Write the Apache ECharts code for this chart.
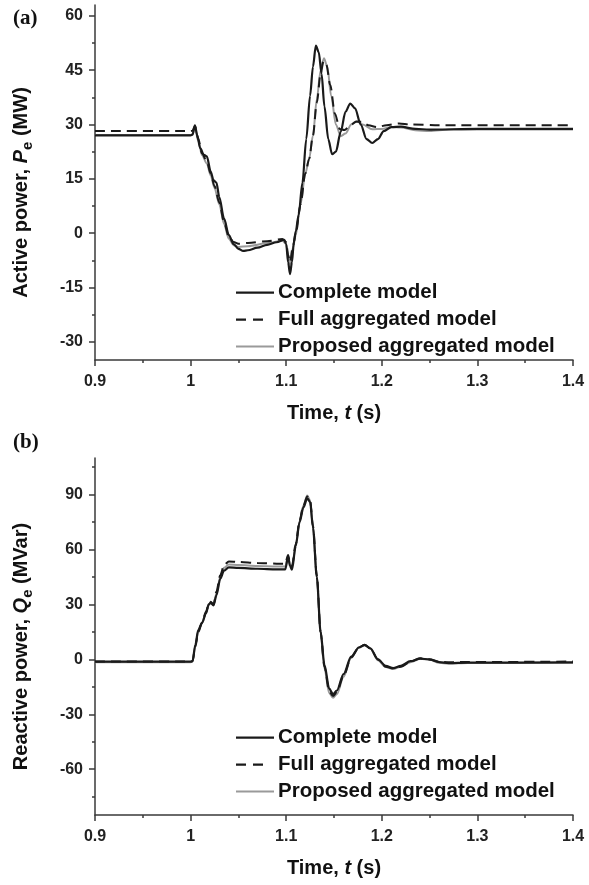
<!DOCTYPE html>
<html>
<head>
<meta charset="utf-8">
<script src="https://cdn.jsdelivr.net/npm/echarts@6/dist/echarts.min.js"></script>
<style>
  html, body { margin: 0; padding: 0; background: #fff; }
  #chart { width: 589px; height: 885px; }
</style>
</head>
<body>
<div id="chart"></div>
<script>
// Axis ticks
const timeTicks = [0.9, 1.0, 1.1, 1.2, 1.3, 1.4];
const timeMinorTicks = [0.95, 1.05, 1.15, 1.25, 1.35];
const pTicks = [-30, -15, 0, 15, 30, 45, 60];
const pMinorTicks = [-22.5, -7.5, 7.5, 22.5, 37.5, 52.5];
const qTicks = [-60, -30, 0, 30, 60, 90];
const qMinorTicks = [-75, -45, -15, 15, 45, 75, 105];

const seriesNames = ['Complete model', 'Full aggregated model', 'Proposed aggregated model'];

// (a) Active power Pe (MW) vs time (s)
const pComplete = [[0.9,27],[1.0,27],[1.002,27.2],[1.0045,29.8],[1.007,27],[1.01,23.5],[1.014,21.6],[1.017,21.2],[1.021,17],[1.024,14.6],[1.027,14],[1.03,10],[1.035,4],[1.04,-0.5],[1.045,-3],[1.05,-4.3],[1.055,-4.9],[1.06,-4.7],[1.07,-4],[1.08,-3.2],[1.09,-2.5],[1.098,-1.8],[1.1,-3],[1.102,-8],[1.104,-11.3],[1.106,-8],[1.108,-2.5],[1.11,0.5],[1.113,5],[1.117,14],[1.121,26],[1.125,38],[1.128,46],[1.131,51.8],[1.134,50],[1.137,44],[1.14,35],[1.144,26],[1.148,21.8],[1.152,22.5],[1.157,28],[1.162,33.5],[1.167,35.8],[1.172,34.5],[1.178,30],[1.184,26],[1.19,24.9],[1.196,26],[1.202,28.2],[1.21,29.3],[1.22,29.4],[1.235,28.8],[1.25,28.6],[1.3,28.8],[1.4,28.8]];
const pFull = [[0.9,28.2],[1.0,28.2],[1.002,28.3],[1.0045,29.6],[1.008,26],[1.012,22],[1.017,19.8],[1.021,16.5],[1.025,13],[1.03,8.5],[1.035,3],[1.04,-1],[1.045,-2.4],[1.05,-2.9],[1.06,-2.7],[1.08,-2.2],[1.096,-1.6],[1.1,-2.5],[1.102,-6],[1.104,-8],[1.107,-3.5],[1.11,0],[1.115,8],[1.12,16.5],[1.124,20.5],[1.128,27],[1.132,36],[1.136,44],[1.139,47.5],[1.142,46.5],[1.146,41],[1.151,33],[1.156,28.8],[1.161,28.5],[1.167,29.8],[1.173,30.8],[1.179,30.8],[1.186,29.8],[1.195,29.3],[1.205,29.8],[1.218,30.3],[1.23,30],[1.26,29.8],[1.4,29.8]];
const pProposed = [[0.9,27.1],[1.0,27.1],[1.002,27.3],[1.0045,29.3],[1.008,25.5],[1.012,21.5],[1.017,19.2],[1.021,16],[1.025,12.5],[1.03,8],[1.035,2.5],[1.04,-1.5],[1.045,-3.3],[1.05,-3.8],[1.06,-3.6],[1.08,-2.8],[1.096,-2.1],[1.1,-3],[1.102,-6.5],[1.104,-8.5],[1.107,-4],[1.11,-0.5],[1.115,8],[1.12,16.5],[1.124,20.5],[1.128,27],[1.132,37],[1.136,45],[1.1395,48.3],[1.143,46],[1.147,38],[1.152,30],[1.157,26.8],[1.162,27.5],[1.168,30],[1.174,31],[1.18,30],[1.19,28.7],[1.2,28.8],[1.21,29.3],[1.22,29.2],[1.235,28.4],[1.25,28.2],[1.27,28.6],[1.4,28.6]];

// (b) Reactive power Qe (MVar) vs time (s)
const qComplete = [[0.9,-1.2],[1.0,-1.2],[1.002,-1],[1.005,8],[1.008,16],[1.012,20],[1.016,25],[1.019,30],[1.021,31],[1.024,29.5],[1.027,35],[1.031,44],[1.035,48.5],[1.04,50.3],[1.05,50],[1.07,49.5],[1.09,49.2],[1.099,49.2],[1.102,56],[1.104,51],[1.106,49],[1.11,62],[1.114,75],[1.118,83],[1.122,88],[1.125,86],[1.128,72],[1.132,45],[1.136,15],[1.14,-3],[1.145,-16],[1.149,-19],[1.153,-17],[1.16,-8],[1.168,1.5],[1.176,6.5],[1.182,7.8],[1.188,6],[1.196,0],[1.204,-3.5],[1.212,-4.8],[1.22,-3.5],[1.23,-1],[1.24,0.4],[1.25,0],[1.26,-1.5],[1.27,-2],[1.29,-1.8],[1.4,-1.6]];
const qFull = [[0.9,-1.2],[1.0,-1.2],[1.002,-1],[1.005,7],[1.008,15],[1.012,20],[1.016,26],[1.019,30],[1.021,31.5],[1.024,30],[1.027,37],[1.031,46],[1.035,51.5],[1.04,53.5],[1.05,53.2],[1.07,52.6],[1.09,52.3],[1.099,52.3],[1.102,57],[1.104,52.5],[1.106,51],[1.11,63],[1.114,76],[1.118,84],[1.122,89],[1.125,87],[1.128,73],[1.132,46],[1.136,15],[1.14,-4],[1.145,-17.5],[1.149,-20],[1.153,-18],[1.16,-9],[1.168,1],[1.176,6.5],[1.182,8],[1.188,6],[1.196,0],[1.204,-4],[1.212,-5],[1.22,-4],[1.23,-1.2],[1.24,0.6],[1.25,0],[1.26,-1.2],[1.27,-1.5],[1.4,-1.2]];
const qProposed = [[0.9,-1.5],[1.0,-1.5],[1.002,-1.2],[1.005,7.5],[1.008,15.5],[1.012,20],[1.016,25.5],[1.019,30],[1.021,31],[1.024,29.8],[1.027,36],[1.031,45],[1.035,50],[1.04,51.8],[1.05,51.5],[1.07,51],[1.09,50.7],[1.099,50.7],[1.102,56.5],[1.104,51.8],[1.106,50],[1.11,62.5],[1.114,75.5],[1.118,84],[1.122,89.5],[1.125,87],[1.128,72.5],[1.132,45.5],[1.136,14],[1.14,-5],[1.145,-18.5],[1.149,-21],[1.153,-19],[1.16,-9.5],[1.168,1],[1.176,6.5],[1.182,8],[1.188,6],[1.196,-0.5],[1.204,-4.2],[1.212,-5.2],[1.22,-4],[1.23,-1.5],[1.24,0.3],[1.25,-0.2],[1.26,-1.8],[1.27,-2.3],[1.29,-2],[1.4,-1.9]];

const AXIS_COLOR = '#3a3a3a';
const FONT = 'Liberation Sans, Arial, sans-serif';

const labelStyle = { fontFamily: FONT, fontWeight: 'bold', fontSize: 16, color: '#222' };
const nameRich = {
  b: { fontFamily: FONT, fontWeight: 'bold', fontSize: 20, color: '#111', padding: [0, 0, 4, 0], verticalAlign: 'bottom' },
  i: { fontFamily: FONT, fontWeight: 'bold', fontStyle: 'italic', fontSize: 20, color: '#111', padding: [0, 0, 4, 0], verticalAlign: 'bottom' },
  s: { fontFamily: FONT, fontWeight: 'bold', fontSize: 15, color: '#111', verticalAlign: 'bottom' }
};

function mainX(grid) {
  return {
    type: 'value', gridIndex: grid, position: 'bottom', min: 0.9, max: 1.4,
    axisLine: { show: true, onZero: false, lineStyle: { color: AXIS_COLOR, width: 1.5 } },
    axisTick: { show: true, length: 6, customValues: timeTicks, lineStyle: { color: AXIS_COLOR, width: 1.5 } },
    axisLabel: Object.assign({ customValues: timeTicks, margin: 14 }, labelStyle),
    splitLine: { show: false },
    name: '{b|Time, }{i|t}{b| (s)}', nameLocation: 'middle', nameGap: 43,
    nameTextStyle: { rich: nameRich }
  };
}
function minorX(grid) {
  return {
    type: 'value', gridIndex: grid, position: 'bottom', min: 0.9, max: 1.4,
    axisLine: { show: false, onZero: false },
    axisTick: { show: true, length: 3, customValues: timeMinorTicks, lineStyle: { color: AXIS_COLOR, width: 1.5 } },
    axisLabel: { show: false }, splitLine: { show: false }
  };
}
function mainY(grid, min, max, ticks, name) {
  return {
    type: 'value', gridIndex: grid, position: 'left', min: min, max: max,
    axisLine: { show: true, onZero: false, lineStyle: { color: AXIS_COLOR, width: 1.5 } },
    axisTick: { show: true, length: 6, customValues: ticks, lineStyle: { color: AXIS_COLOR, width: 1.5 } },
    axisLabel: Object.assign({ customValues: ticks, margin: 12 }, labelStyle),
    splitLine: { show: false },
    name: name, nameLocation: 'middle', nameGap: 60,
    // extra trailing padding nudges the rotated title a little below the axis centre
    nameTextStyle: { rich: nameRich, padding: [0, 20, 0, 0] }
  };
}
function minorY(grid, min, max, ticks) {
  return {
    type: 'value', gridIndex: grid, position: 'left', min: min, max: max,
    axisLine: { show: false, onZero: false },
    axisTick: { show: true, length: 3, customValues: ticks, lineStyle: { color: AXIS_COLOR, width: 1.5 } },
    axisLabel: { show: false }, splitLine: { show: false }
  };
}

const styles = [
  { color: '#1a1a1a', width: 2.2, type: 'solid' },
  { color: '#1a1a1a', width: 2, type: [10, 6] },
  { color: '#9a9a9a', width: 2, type: 'solid' }
];
const zOrder = [4, 3, 2];

// Legend glyphs: a short stroke for the solid lines, two dashes for the dashed one
const legendIcons = [
  'path://M0,0M38,14M0,6H38V8.2H0Z',
  'path://M0,0M38,14M0,6H10V8.2H0ZM17,6H27V8.2H17Z',
  'path://M0,0M38,14M0,6H38V8H0Z'
];

function curve(nameIdx, data, xi, yi) {
  return {
    name: seriesNames[nameIdx], type: 'line', xAxisIndex: xi, yAxisIndex: yi,
    data: data, symbol: 'none', showSymbol: false, smooth: 0.3, smoothMonotone: 'x',
    color: styles[nameIdx].color, lineStyle: styles[nameIdx], z: zOrder[nameIdx],
    animation: false
  };
}

function legendAt(top) {
  return {
    orient: 'vertical', left: 231, top: top, itemWidth: 38, itemHeight: 14, itemGap: 6,
    data: seriesNames.map((n, i) => ({ name: n, icon: legendIcons[i] })),
    selectedMode: false, symbolKeepAspect: false,
    itemStyle: { borderWidth: 0 },
    textStyle: { fontFamily: FONT, fontWeight: 'bold', fontSize: 20.5, color: '#111', padding: [0, 0, 0, -1] }
  };
}

const chart = echarts.init(document.getElementById('chart'), null, { renderer: 'canvas' });
chart.setOption({
  backgroundColor: '#fff',
  animation: false,
  grid: [
    { left: 95, right: 16, top: 5, height: 355 },
    { left: 95, right: 16, top: 458, height: 357 }
  ],
  xAxis: [mainX(0), minorX(0), mainX(1), minorX(1)],
  yAxis: [
    mainY(0, -35, 63, pTicks, '{b|Active power, }{i|P}{s|e}{b| (MW)}'),
    minorY(0, -35, 63, pMinorTicks),
    mainY(1, -85, 110, qTicks, '{b|Reactive power, }{i|Q}{s|e}{b| (MVar)}'),
    minorY(1, -85, 110, qMinorTicks)
  ],
  legend: [legendAt(277), legendAt(722)],
  graphic: [
    { type: 'text', left: 13, top: 8, style: { text: '(a)', font: 'bold 21px "Liberation Serif", serif', fill: '#111' } },
    { type: 'text', left: 13, top: 432, style: { text: '(b)', font: 'bold 21px "Liberation Serif", serif', fill: '#111' } }
  ],
  series: [
    curve(2, pProposed, 0, 0), curve(1, pFull, 0, 0), curve(0, pComplete, 0, 0),
    curve(2, qProposed, 2, 2), curve(1, qFull, 2, 2), curve(0, qComplete, 2, 2)
  ]
});
</script>
</body>
</html>
